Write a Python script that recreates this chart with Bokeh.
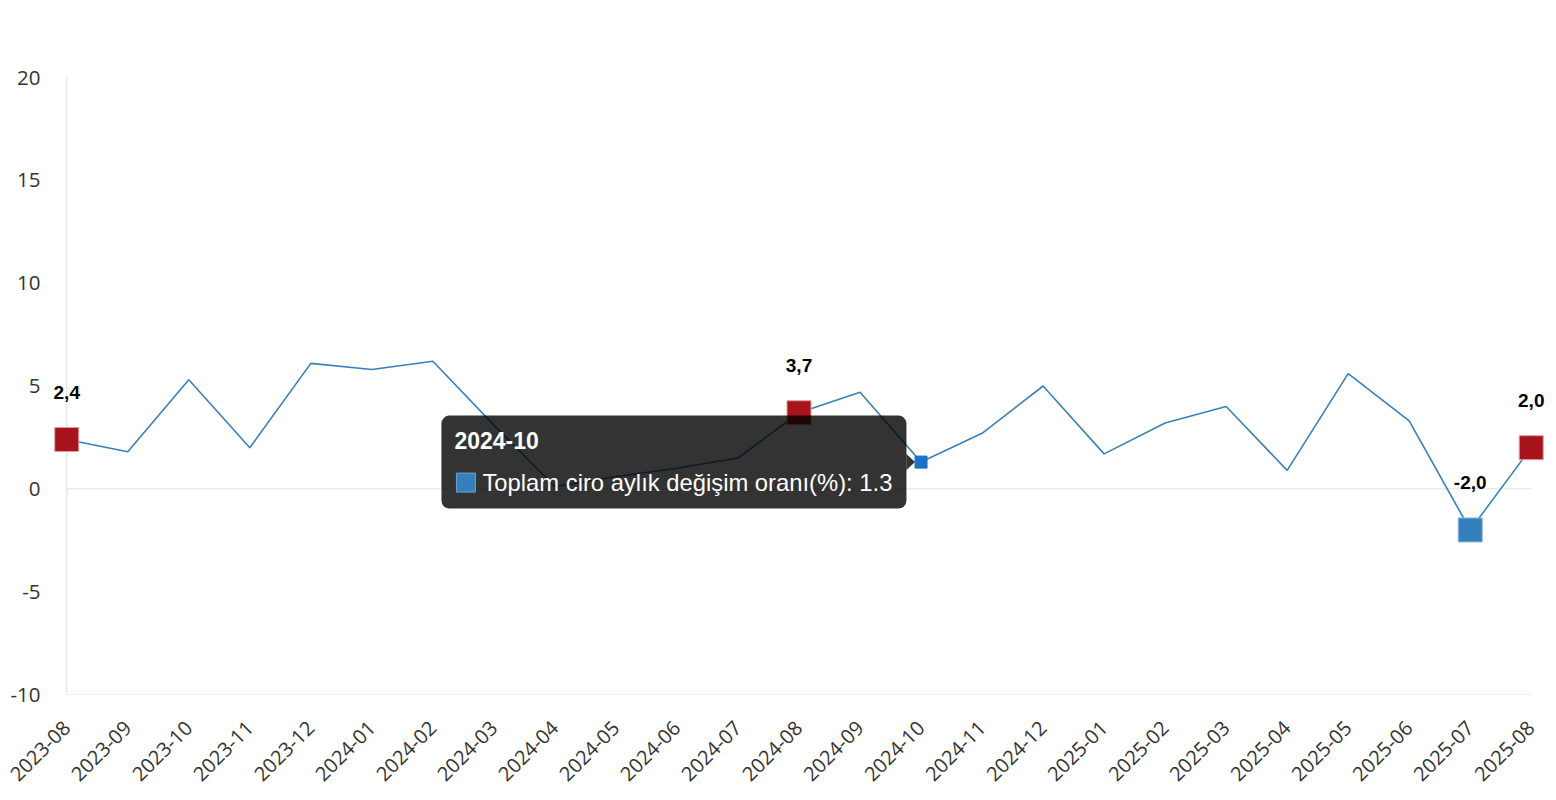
import numpy as np
from bokeh.plotting import figure
from bokeh.models import Range1d, FixedTicker, BoxAnnotation, Label
from bokeh.core.properties import value
from bokeh.embed import file_html
from bokeh.resources import INLINE

months = ["2023-08", "2023-09", "2023-10", "2023-11", "2023-12",
          "2024-01", "2024-02", "2024-03", "2024-04", "2024-05", "2024-06",
          "2024-07", "2024-08", "2024-09", "2024-10", "2024-11", "2024-12",
          "2025-01", "2025-02", "2025-03", "2025-04", "2025-05", "2025-06",
          "2025-07", "2025-08"]
values = [2.4, 1.8, 5.3, 2.0, 6.1,
          5.8, 6.2, 3.1, 0.1, 0.6, 1.0,
          1.5, 3.7, 4.7, 1.3, 2.7, 5.0,
          1.7, 3.2, 4.0, 0.9, 5.6, 3.3,
          -2.0, 2.0]
red_months = ["2023-08", "2024-08", "2025-08"]
blue_months = ["2025-07"]
hover_month = "2024-10"
series_name = "Toplam ciro aylık değişim oranı(%)"
y_ticks = [-10, -5, 0, 5, 10, 15, 20]
y_tick_labels = ["-10", "-5", "0", "5", "10", "15", "20"]

n = len(months)
xs = list(range(n))
idx = {m: i for i, m in enumerate(months)}

W, H = 1550, 798
BL, BR, BT, BB = 51, 4, 77, 104
pad = 0.25
ymin, ymax = min(y_ticks), max(y_ticks)
p = figure(width=W, height=H, x_range=Range1d(-pad, n - 1 + pad),
           y_range=Range1d(ymin, ymax),
           output_backend="svg", toolbar_location=None,
           min_border_left=BL, min_border_right=BR,
           min_border_top=BT, min_border_bottom=BB)
p.outline_line_color = None
p.background_fill_color = "white"
p.xgrid.visible = False
p.ygrid.visible = False

# axes
p.yaxis.ticker = FixedTicker(ticks=y_ticks)
p.yaxis.major_label_overrides = {t: s for t, s in zip(y_ticks, y_tick_labels)}
p.yaxis.axis_line_color = None
p.yaxis.major_tick_line_color = None
p.yaxis.major_tick_out = 0
p.yaxis.major_tick_in = 0
p.yaxis.minor_tick_line_color = None
p.yaxis.major_label_text_font = "Open Sans"
p.yaxis.major_label_text_font_size = "20.5px"
p.yaxis.major_label_text_color = "#333333"
p.yaxis.major_label_standoff = 11

p.xaxis.ticker = FixedTicker(ticks=xs)
p.xaxis.major_label_overrides = {i: m for i, m in enumerate(months)}
p.xaxis.major_label_orientation = np.pi / 4
p.xaxis.axis_line_color = None
p.xaxis.major_tick_line_color = None
p.xaxis.major_tick_out = 0
p.xaxis.major_tick_in = 0
p.xaxis.minor_tick_line_color = None
p.xaxis.major_label_text_font = "Open Sans"
p.xaxis.major_label_text_font_size = "20px"
p.xaxis.major_label_text_color = "#333333"
p.xaxis.major_label_standoff = 30

# axis lines and zero line
p.segment(x0=[0], y0=[ymin], x1=[0], y1=[ymax], line_color="#e0e0e0", line_width=1)
p.segment(x0=[0], y0=[ymin], x1=[n - 1], y1=[ymin], line_color="#e0e0e0", line_width=1)
p.segment(x0=[0], y0=[0], x1=[n - 1], y1=[0], line_color="#e0e0e0", line_width=1)

# series line
p.line(xs, values, line_color="#3a80ba", line_width=1.6)

# highlighted markers
rx = [idx[m] for m in red_months]
ry = [values[i] for i in rx]
bx = [idx[m] for m in blue_months]
by = [values[i] for i in bx]
p.scatter(rx, ry, marker="square", size=24, fill_color="#a8141b", line_color="#d4a0a2", line_width=1)
p.scatter(bx, by, marker="square", size=24, fill_color="#3380bd", line_color="#8fb8da", line_width=1)

# data labels
lx = rx + bx
ly = ry + by
lt = [f"{v:.1f}".replace(".", ",") for v in ly]
p.text(x=lx, y=ly, text=lt, text_font=value("Liberation Sans"), text_font_style="bold",
       text_font_size="19px", text_color="#000000", text_align="center",
       text_baseline="middle", y_offset=-47)

# hovered point
hx = idx[hover_month]
hy = values[hx]
p.scatter([hx], [hy], marker="square", size=12, fill_color="#1a71c5", line_color="#1a71c5")

# tooltip (positioned relative to the hovered point)
ux = (n - 1 + 2 * pad) / (W - BL - BR)
uy = (ymax - ymin) / (H - BT - BB)
t_left = hx - 479.6 * ux
t_right = hx - 14.6 * ux
t_top = hy + 46.5 * uy
t_bot = hy - 46.5 * uy
box = BoxAnnotation(left=t_left, right=t_right, top=t_top, bottom=t_bot,
                    fill_color="#000000", fill_alpha=0.8, line_color=None,
                    border_radius=8)
p.add_layout(box)
p.patch([t_right, t_right + 8.5 * ux, t_right], [hy + 8 * uy, hy, hy - 8 * uy],
        fill_color="#000000", fill_alpha=0.8, line_color=None, level="annotation")
p.add_layout(Label(x=t_left + 13 * ux, y=t_top - 25 * uy, text=hover_month,
                   text_font="Liberation Sans", text_font_style="bold",
                   text_font_size="23px", text_color="white",
                   text_baseline="middle", text_align="left", level="overlay"))
p.scatter([t_left + 24.5 * ux], [t_top - 67 * uy], marker="square", size=19,
          fill_color="#3380bd", line_color="#6fa3cf", line_width=1, level="overlay")
p.add_layout(Label(x=t_left + 41 * ux, y=t_top - 67 * uy,
                   text=f"{series_name}: {hy}",
                   text_font="Liberation Sans", text_font_size="23.8px",
                   text_color="white", text_baseline="middle",
                   text_align="left", level="overlay"))

open("out.html", "w").write(file_html(p, INLINE))
